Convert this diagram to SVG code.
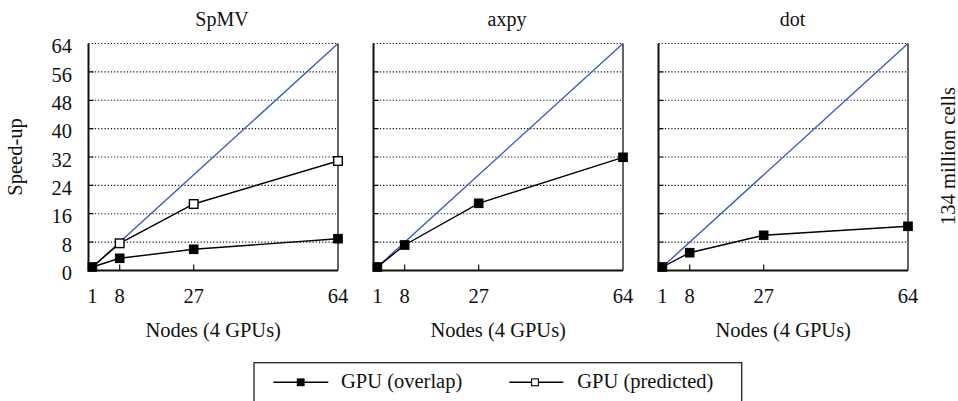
<svg xmlns="http://www.w3.org/2000/svg" xmlns:xlink="http://www.w3.org/1999/xlink" width="958" height="401" viewBox="0 0 958 401" font-family="'Liberation Serif', 'DejaVu Serif', serif">
  <style>
    text { font-family: "Liberation Serif", "DejaVu Serif", serif; fill: #111; }
    .title { font-size: 20px; text-anchor: middle; }
    .ytick { font-size: 20.5px; text-anchor: end; }
    .xtick { font-size: 20.5px; text-anchor: middle; }
    .xlabel { font-size: 20.5px; text-anchor: middle; }
    .side { font-size: 20.5px; text-anchor: middle; }
    .legend { font-size: 20.5px; }
    .grid { stroke: #111; stroke-width: 1.1; stroke-dasharray: 1.2 2; fill: none; }
    .axis { stroke: #111; stroke-width: 2; fill: none; }
    .axis-r { stroke: #666; stroke-width: 2; fill: none; }
    .tick { stroke: #111; stroke-width: 1.2; fill: none; }
    .ideal { stroke: #3b5bb5; stroke-width: 1.4; fill: none; }
    .series { stroke: #000; stroke-width: 1.4; fill: none; }
    .mfill { fill: #000; stroke: #000; stroke-width: 1; }
    .mopen { fill: #fff; stroke: #000; stroke-width: 1.4; }
  </style>
  <defs>
    <rect id="sq" x="-4.3" y="-4.3" width="8.6" height="8.6"/>
    <rect id="sqs" x="-3.4" y="-3.4" width="6.8" height="6.8"/>
    <!-- shared frame: grid, axes and ticks; panel origin at (0,0), plot 249.5 x 227 -->
    <g id="frame">
      <path class="grid" d="M0 43.5H249.5M0 71.9H249.5M0 100.3H249.5M0 128.6H249.5M0 157H249.5M0 185.4H249.5M0 213.7H249.5M0 242.1H249.5"/>
      <path class="tick" d="M0 71.9h5M0 100.3h5M0 128.6h5M0 157h5M0 185.4h5M0 213.7h5M0 242.1h5"/>
      <path class="tick" d="M31.2 270.5v-6M105.2 270.5v-6"/>
      <path class="axis-r" d="M249.5 43.5V270.5"/>
      <path class="axis" d="M0 43.5V270.5H249.5"/>
      <text class="xtick" x="3.9" y="302.5">1</text>
      <text class="xtick" x="31.2" y="302.5">8</text>
      <text class="xtick" x="105.2" y="302.5">27</text>
      <text class="xtick" x="249.5" y="302.5">64</text>
      <text class="xlabel" x="124.7" y="337">Nodes (4 GPUs)</text>
    </g>
  </defs>

  <!-- y axis labels, left panel only -->
  <g id="y-axis">
    <text class="ytick" x="72" y="53.3">64</text>
    <text class="ytick" x="72" y="81.7">56</text>
    <text class="ytick" x="72" y="110">48</text>
    <text class="ytick" x="72" y="138.3">40</text>
    <text class="ytick" x="72" y="166.7">32</text>
    <text class="ytick" x="72" y="195.1">24</text>
    <text class="ytick" x="72" y="223.4">16</text>
    <text class="ytick" x="72" y="251.8">8</text>
    <text class="ytick" x="72" y="280.2">0</text>
    <text class="side" transform="translate(22,157) rotate(-90)">Speed-up</text>
  </g>

  <!-- SpMV -->
  <g id="panel-spmv">
    <use xlink:href="#frame" transform="translate(88.5,0)"/>
    <text class="title" x="222" y="25.7">SpMV</text>
    <path class="ideal" d="M92.4 267L338 43.5"/>
    <path class="series" d="M92.4 267L119.7 243.3L193.7 204L338 161"/>
    <path class="series" d="M92.4 267L119.7 258.3L193.7 249.3L338 238.7"/>
    <use class="mopen" xlink:href="#sq" x="119.7" y="243.3"/>
    <use class="mopen" xlink:href="#sq" x="193.7" y="204"/>
    <use class="mopen" xlink:href="#sq" x="338" y="161"/>
    <use class="mfill" xlink:href="#sq" x="92.4" y="267"/>
    <use class="mfill" xlink:href="#sq" x="119.7" y="258.3"/>
    <use class="mfill" xlink:href="#sq" x="193.7" y="249.3"/>
    <use class="mfill" xlink:href="#sq" x="338" y="238.7"/>
  </g>

  <!-- axpy -->
  <g id="panel-axpy">
    <use xlink:href="#frame" transform="translate(373.5,0)"/>
    <text class="title" x="507" y="25.7">axpy</text>
    <path class="ideal" d="M377.4 267L623 43.5"/>
    <path class="series" d="M377.4 267L404.7 245L478.7 203.3L623 157.3"/>
    <use class="mfill" xlink:href="#sq" x="377.4" y="267"/>
    <use class="mfill" xlink:href="#sq" x="404.7" y="245"/>
    <use class="mfill" xlink:href="#sq" x="478.7" y="203.3"/>
    <use class="mfill" xlink:href="#sq" x="623" y="157.3"/>
  </g>

  <!-- dot -->
  <g id="panel-dot">
    <use xlink:href="#frame" transform="translate(658.5,0)"/>
    <text class="title" x="792.5" y="25.7">dot</text>
    <path class="ideal" d="M662.4 267L908 43.5"/>
    <path class="series" d="M662.4 267L689.7 252.7L763.7 235.3L908 226.3"/>
    <use class="mfill" xlink:href="#sq" x="662.4" y="267"/>
    <use class="mfill" xlink:href="#sq" x="689.7" y="252.7"/>
    <use class="mfill" xlink:href="#sq" x="763.7" y="235.3"/>
    <use class="mfill" xlink:href="#sq" x="908" y="226.3"/>
    <text class="side" transform="translate(955,156) rotate(-90)">134 million cells</text>
  </g>

  <!-- legend -->
  <g id="legend">
    <rect x="254" y="362.7" width="487.7" height="60" fill="#fff" stroke="#222" stroke-width="1.3"/>
    <path class="series" d="M273.3 382.3H328.3"/>
    <use class="mfill" xlink:href="#sqs" x="300.7" y="382.3"/>
    <text class="legend" x="341" y="388">GPU (overlap)</text>
    <path class="series" d="M509.3 382.3H563.3"/>
    <use class="mopen" xlink:href="#sqs" x="535" y="382.3" style="stroke-width:1.1"/>
    <text class="legend" x="577.3" y="388">GPU (predicted)</text>
  </g>
</svg>
